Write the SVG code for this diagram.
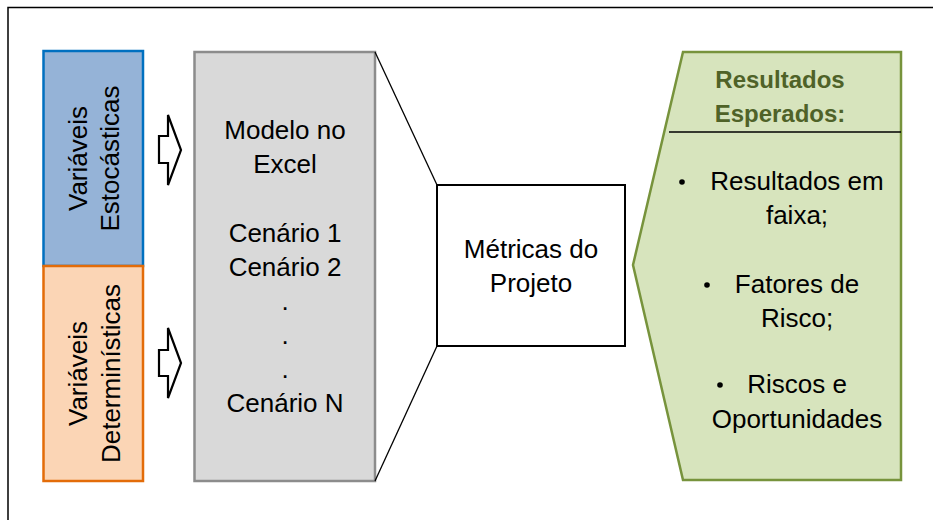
<svg xmlns="http://www.w3.org/2000/svg" width="933" height="520" viewBox="0 0 933 520">
<style>
text{font-family:"Liberation Sans","Open Sans",Arial,sans-serif;font-size:26px;fill:#000;text-anchor:middle}
.h{font-weight:bold;fill:#4F6228;font-size:24px}
.arr{fill:#fff;stroke:#000;stroke-width:2.2;stroke-linejoin:miter}
.ln{stroke:#000;stroke-width:1.3;fill:none}
</style>
<rect x="0" y="0" width="933" height="520" fill="#fff"/>
<path d="M8,520 L8,7.5 L933,7.5" fill="none" stroke="#000" stroke-width="1.5"/>
<g id="estocasticas">
<rect x="43.5" y="51" width="99.5" height="215" fill="#95B3D7" stroke="#0070C0" stroke-width="2.5"/>
<text transform="translate(87,158.5) rotate(-90)">Variáveis</text>
<text transform="translate(119,158.5) rotate(-90)">Estocásticas</text>
</g>
<g id="deterministicas">
<rect x="43.5" y="266" width="99.5" height="215" fill="#FBD5B5" stroke="#E36C09" stroke-width="2.5"/>
<text transform="translate(87,373.5) rotate(-90)">Variáveis</text>
<text transform="translate(120,373.5) rotate(-90)">Determinísticas</text>
</g>
<g id="modelo">
<rect x="194.5" y="52" width="180.5" height="429" fill="#D9D9D9" stroke="#8C8C8C" stroke-width="2.5"/>
<text x="285" y="139">Modelo no</text>
<text x="285" y="173">Excel</text>
<text x="285" y="242">Cenário 1</text>
<text x="285" y="276">Cenário 2</text>
<text x="285" y="310">.</text>
<text x="285" y="344">.</text>
<text x="285" y="378">.</text>
<text x="285" y="412">Cenário N</text>
</g>
<g id="metricas">
<rect x="437" y="185" width="188" height="161" fill="#fff" stroke="#000" stroke-width="2"/>
<text x="531" y="258">Métricas do</text>
<text x="531" y="292">Projeto</text>
</g>
<g id="resultados">
<path d="M683,52 L901,52 L901,480 L683,480 L633,265 Z" fill="#D7E4BD" stroke="#77933C" stroke-width="2.5" stroke-linejoin="miter"/>
<line x1="669" y1="132" x2="901" y2="132" stroke="#000" stroke-width="1.3"/>
<text class="h" x="780" y="88">Resultados</text>
<text class="h" x="780" y="122">Esperados:</text>
<circle cx="682" cy="182" r="2.8" fill="#000"/>
<text x="797" y="190">Resultados em</text>
<text x="797" y="224">faixa;</text>
<circle cx="707" cy="285" r="2.8" fill="#000"/>
<text x="797" y="293">Fatores de</text>
<text x="797" y="327">Risco;</text>
<circle cx="720" cy="385" r="2.8" fill="#000"/>
<text x="797" y="393">Riscos e</text>
<text x="797" y="428">Oportunidades</text>
</g>
<g id="connectors">
<path class="arr" d="M159,136 L168,136 L168,115 L181,150 L168,185 L168,163 L159,163 Z"/>
<path class="arr" d="M159,350 L168,350 L168,328 L181,363 L168,398 L168,376 L159,376 Z"/>
<line class="ln" x1="375" y1="52" x2="437" y2="185"/>
<line class="ln" x1="437" y1="346" x2="375" y2="481"/>
</g>
</svg>
